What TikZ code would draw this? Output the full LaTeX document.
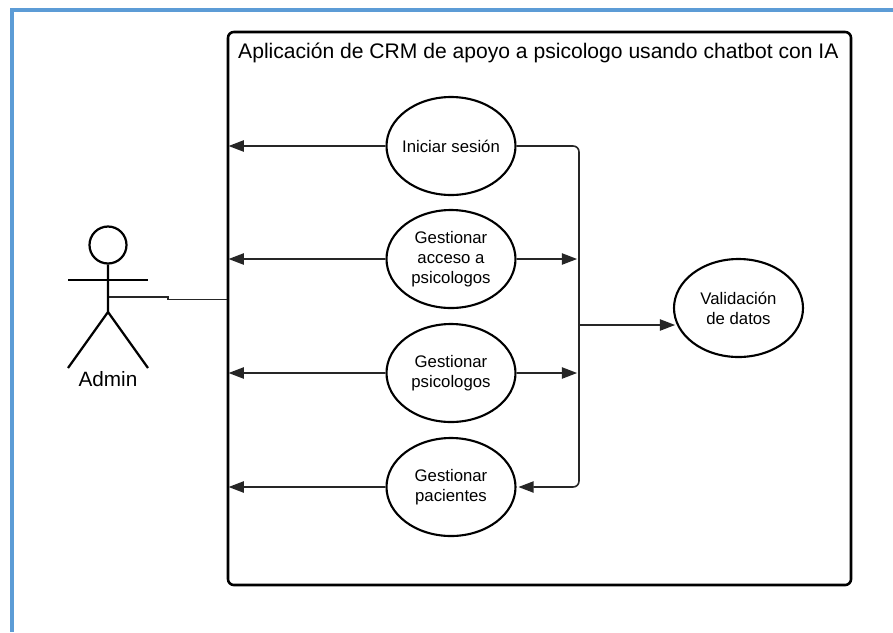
\documentclass[tikz,border=0pt]{standalone}
\usepackage{fontspec}
\setmainfont{Liberation Sans}
\usetikzlibrary{arrows.meta}
\usetikzlibrary{shapes.geometric}
\definecolor{mframe}{rgb}{0.36, 0.61, 0.84}
\definecolor{mline}{rgb}{0.15, 0.15, 0.15}
\tikzset{
  usecase/.style={draw, ellipse, line width=1.8pt, minimum width=129*0.03cm, minimum height=98*0.03cm, inner ysep=0pt, inner xsep=-4pt, align=center, font=\fontsize{14.3}{17.2}\selectfont},
  link/.style={draw=mline, line width=1.35pt},
  linktip/.style={link, -{Triangle[length=13pt, width=9.6pt]}, shorten >=1.6pt},
  stick/.style={line width=1.9pt}
}

\begin{document}
\begin{tikzpicture}[x=0.03cm, y=-0.03cm]
  \useasboundingbox (0, 0) rectangle (893, 632);
  \draw [mframe, line width=3pt] (893, 10) -- (12, 10) -- (12, 632);

  \node [draw, line width=2.2pt, rounded corners=5pt, minimum width=623*0.03cm, minimum height=553*0.03cm, inner sep=0pt] (sistema) at (539.5, 308.5) {};
  \node [anchor=west, inner sep=0pt, font=\fontsize{18}{22}\selectfont] (titulo) at (238, 53) {Aplicación de CRM de apoyo a psicologo usando chatbot con IA};

  \node [usecase] (iniciar) at (451, 146) {Iniciar sesión};
  \node [usecase] (acceso) at (451, 259) {Gestionar\\acceso a\\psicologos};
  \node [usecase] (psicologos) at (451, 373) {Gestionar\\psicologos};
  \node [usecase] (pacientes) at (451, 487) {Gestionar\\pacientes};
  \node [usecase] (validacion) at (738.5, 308) {Validación\\de datos};

  % actor
  \node [draw, circle, stick, minimum size=37*0.03cm, inner sep=0pt] (cabeza) at (108, 245) {};
  \coordinate (cadera) at (108, 312);
  \coordinate (brazoi) at (68, 280);
  \coordinate (brazod) at (148, 280);
  \coordinate (piei) at (68, 368);
  \coordinate (pied) at (148, 368);
  \draw [stick] (cabeza) -- (cadera) -- (piei);
  \draw [stick] (cadera) -- (pied);
  \draw [stick] (brazoi) -- (brazod);
  \node [inner sep=0pt, font=\fontsize{17.7}{21}\selectfont] (admin) at (108, 379) {Admin};

  \coordinate (pecho) at (109, 297);
  \coordinate (codo) at (168, 297);
  \coordinate (codob) at (168, 299.5);
  \draw [link] (pecho) -- (codo) -- (codob) -- (codob -| sistema.west);

  % flechas hacia el borde izquierdo
  \draw [linktip] (iniciar.west) -- (iniciar.west -| sistema.west);
  \draw [linktip] (acceso.west) -- (acceso.west -| sistema.west);
  \draw [linktip] (psicologos.west) -- (psicologos.west -| sistema.west);
  \draw [linktip] (pacientes.west) -- (pacientes.west -| sistema.west);

  % barra vertical
  \coordinate (barra) at (579, 325);
  \coordinate (entrada) at (677, 325);
  \draw [linktip, rounded corners=5pt] (iniciar.east) -- (iniciar.east -| barra) -- (pacientes.east -| barra) -- (pacientes.east);
  \draw [linktip] (acceso.east) -- (acceso.east -| barra);
  \draw [linktip] (psicologos.east) -- (psicologos.east -| barra);
  \draw [linktip] (barra) -- (entrada);
\end{tikzpicture}
\end{document}
